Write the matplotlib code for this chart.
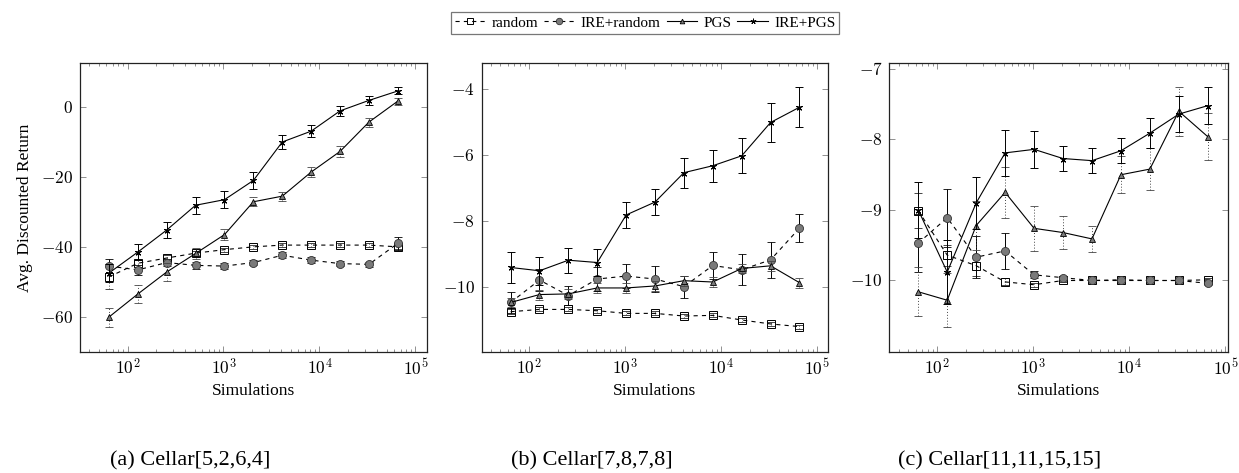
import matplotlib
matplotlib.use("Agg")
import matplotlib.pyplot as plt
import numpy as np
from matplotlib.ticker import FixedLocator, FuncFormatter, LogLocator, NullFormatter
from matplotlib.lines import Line2D

plt.rcParams['font.family'] = ['Liberation Serif', 'DejaVu Serif']
plt.rcParams['mathtext.fontset'] = 'cm'

sims = [64, 128, 256, 512, 1024, 2048, 4096, 8192, 16384, 32768, 65536]

# Panel (a) Cellar[5,2,6,4]
a_random = [-48.6, -44.7, -43.2, -41.8, -40.8, -40.0, -39.5, -39.5, -39.5, -39.5, -40.0]
a_random_err = [3.6, 1.0, 0.8, 0.7, 0.6, 0.6, 0.5, 0.5, 0.5, 0.5, 0.6]
a_ire_random = [-45.5, -46.6, -44.5, -45.3, -45.5, -44.5, -42.4, -43.8, -44.8, -45.0, -39.0]
a_ire_random_err = [2.0, 1.5, 1.0, 1.0, 0.8, 0.8, 0.8, 0.8, 0.8, 0.8, 1.8]
a_pgs = [-60.1, -53.5, -47.2, -41.9, -36.5, -27.1, -25.5, -18.6, -12.7, -4.3, 1.7]
a_pgs_err = [2.7, 2.7, 2.5, 1.5, 1.5, 1.3, 1.3, 1.5, 1.5, 1.3, 1.0]
a_ire_pgs = [-47.5, -41.5, -35.2, -28.1, -26.5, -21.0, -10.0, -6.9, -1.1, 1.9, 4.6]
a_ire_pgs_err = [2.5, 2.2, 2.4, 2.4, 2.5, 2.4, 1.9, 1.8, 1.4, 1.2, 1.0]

# Panel (b) Cellar[7,8,7,8]
b_random = [-10.74, -10.67, -10.67, -10.71, -10.79, -10.79, -10.87, -10.85, -10.99, -11.11, -11.19]
b_random_err = [0.08, 0.06, 0.06, 0.06, 0.06, 0.06, 0.06, 0.06, 0.06, 0.06, 0.06]
b_ire_random = [-10.46, -9.78, -10.25, -9.75, -9.66, -9.75, -9.98, -9.34, -9.47, -9.17, -8.21]
b_ire_random_err = [0.33, 0.33, 0.30, 0.35, 0.35, 0.38, 0.33, 0.42, 0.47, 0.54, 0.42]
b_pgs = [-10.46, -10.22, -10.20, -10.02, -10.02, -9.96, -9.80, -9.84, -9.43, -9.35, -9.86]
b_pgs_err = [0.15, 0.15, 0.15, 0.15, 0.15, 0.15, 0.15, 0.15, 0.15, 0.15, 0.15]
b_ire_pgs = [-9.40, -9.50, -9.18, -9.25, -7.81, -7.42, -6.53, -6.32, -6.02, -5.01, -4.55]
b_ire_pgs_err = [0.46, 0.42, 0.38, 0.41, 0.39, 0.40, 0.45, 0.48, 0.53, 0.59, 0.61]

# Panel (c) Cellar[11,11,15,15]
c_random = [-9.01, -9.64, -9.79, -10.02, -10.06, -10.0, -10.0, -10.0, -10.0, -10.0, -9.99]
c_random_err = [0.25, 0.15, 0.15, 0.05, 0.03, 0.02, 0.02, 0.02, 0.02, 0.02, 0.02]
c_ire_random = [-9.47, -9.11, -9.67, -9.58, -9.92, -9.96, -10.0, -9.99, -10.0, -10.0, -10.04]
c_ire_random_err = [0.41, 0.41, 0.30, 0.25, 0.05, 0.03, 0.02, 0.02, 0.02, 0.02, 0.02]
c_pgs = [-10.16, -10.28, -9.22, -8.75, -9.26, -9.32, -9.41, -8.50, -8.42, -7.60, -7.96]
c_pgs_err = [0.35, 0.38, 0.35, 0.36, 0.32, 0.24, 0.18, 0.26, 0.30, 0.35, 0.33]
c_ire_pgs = [-9.0, -9.88, -8.90, -8.19, -8.14, -8.27, -8.30, -8.16, -7.91, -7.64, -7.52]
c_ire_pgs_err = [0.40, 0.45, 0.37, 0.33, 0.26, 0.18, 0.18, 0.18, 0.21, 0.26, 0.26]

series_names = ['random', 'IRE+random', 'PGS', 'IRE+PGS']
panel_titles = ['(a) Cellar[5,2,6,4]', '(b) Cellar[7,8,7,8]', '(c) Cellar[11,11,15,15]']
y_ticks = [[-60, -40, -20, 0], [-10, -8, -6, -4], [-10, -9, -8, -7]]
y_lims = [(-70, 12.6), (-11.95, -3.21), (-11.01, -6.915)]
x_lims = [(10**1.505, 10**5.117), (10**1.505, 10**5.117), (10**1.505, 10**5.03)]

panels = [
    [(a_random, a_random_err), (a_ire_random, a_ire_random_err), (a_pgs, a_pgs_err), (a_ire_pgs, a_ire_pgs_err)],
    [(b_random, b_random_err), (b_ire_random, b_ire_random_err), (b_pgs, b_pgs_err), (b_ire_pgs, b_ire_pgs_err)],
    [(c_random, c_random_err), (c_ire_random, c_ire_random_err), (c_pgs, c_pgs_err), (c_ire_pgs, c_ire_pgs_err)],
]

dash = (0, (3.75, 3.75))
styles = [
    dict(ls=dash, marker='s', ms=5.4, mfc='none', mec='black', mew=0.7, ebls=(0, (1, 2)), ecol='#444444'),
    dict(ls=dash, marker='o', ms=5.8, mfc='#7a7a7a', mec='#333333', mew=0.6, ebls='-', ecol='black'),
    dict(ls='-', marker='^', ms=4.2, mfc='#7a7a7a', mec='black', mew=0.6, ebls=(0, (1, 2)), ecol='#444444'),
    dict(ls='-', marker=(5, 2, 0), ms=5.0, mfc='black', mec='black', mew=0.7, ebls='-', ecol='black'),
]

W, H = 1239, 473
fig = plt.figure(figsize=(W / 100, H / 100), dpi=100)
ax_px = [(80, 426.7), (481.7, 828.3), (889.3, 1228.3)]
top_px, bot_px = 63.0, 351.7

for i, (l, r) in enumerate(ax_px):
    ax = fig.add_axes([l / W, 1 - bot_px / H, (r - l) / W, (bot_px - top_px) / H])
    for j, (vals, errs) in enumerate(panels[i]):
        st = styles[j]
        cont = ax.errorbar(sims, vals, yerr=errs, color='black', lw=0.8, ls=st['ls'],
                           marker=st['marker'], ms=st['ms'], mfc=st['mfc'], mec=st['mec'],
                           mew=st['mew'], ecolor=st['ecol'], elinewidth=0.7, capsize=2.6,
                           capthick=0.7, zorder=3 + j)
        for bar in cont[2]:
            bar.set_linestyle(st['ebls'])
        if st['ebls'] != '-':
            for cap in cont[1]:
                cap.set_color('#999999')
    ax.set_xscale('log')
    ax.set_xlim(*x_lims[i])
    ax.set_ylim(*y_lims[i])
    ax.xaxis.set_major_locator(FixedLocator([1e2, 1e3, 1e4, 1e5]))
    ax.xaxis.set_minor_locator(LogLocator(base=10, subs=np.arange(2, 10), numticks=20))
    ax.xaxis.set_minor_formatter(NullFormatter())
    ax.xaxis.set_major_formatter(FuncFormatter(lambda v, p: r'$10^{%d}$' % round(np.log10(v))))
    ax.yaxis.set_major_locator(FixedLocator(y_ticks[i]))
    ax.yaxis.set_major_formatter(FuncFormatter(lambda v, p: r'$%g$' % v))
    ax.tick_params(which='both', direction='in', top=True, right=True, colors='#7f7f7f',
                   labelcolor='black', labelsize=12.5, width=0.6)
    ax.tick_params(which='major', length=4.5, pad=5)
    ax.tick_params(which='minor', length=2.5)
    for sp in ax.spines.values():
        sp.set_linewidth(0.9)
        sp.set_color('#222222')
    ax.set_xlabel('Simulations', fontsize=12.5, labelpad=3)
    if i == 0:
        ax.set_ylabel('Avg. Discounted Return', fontsize=12.5, labelpad=6)

caption_x = [190, 592, 1000]
for i, t in enumerate(panel_titles):
    fig.text(caption_x[i] / W, 1 - 461 / H, t, ha='center', va='center', fontsize=16)

handles = []
for j, st in enumerate(styles):
    handles.append(Line2D([], [], color='black', lw=0.8, ls=st['ls'], marker=st['marker'],
                          ms=st['ms'] * 0.8, mfc=st['mfc'], mec=st['mec'], mew=st['mew']))
leg = fig.legend(handles, series_names, loc='center', bbox_to_anchor=(645 / W, 1 - 23 / H),
                 ncol=4, frameon=True, fancybox=False, edgecolor='#555555', fontsize=11,
                 handlelength=2.0, handletextpad=0.4, columnspacing=0.4, borderpad=0.25,
                 borderaxespad=0)
leg.get_frame().set_linewidth(0.9)

fig.savefig('out.png', dpi=100)
